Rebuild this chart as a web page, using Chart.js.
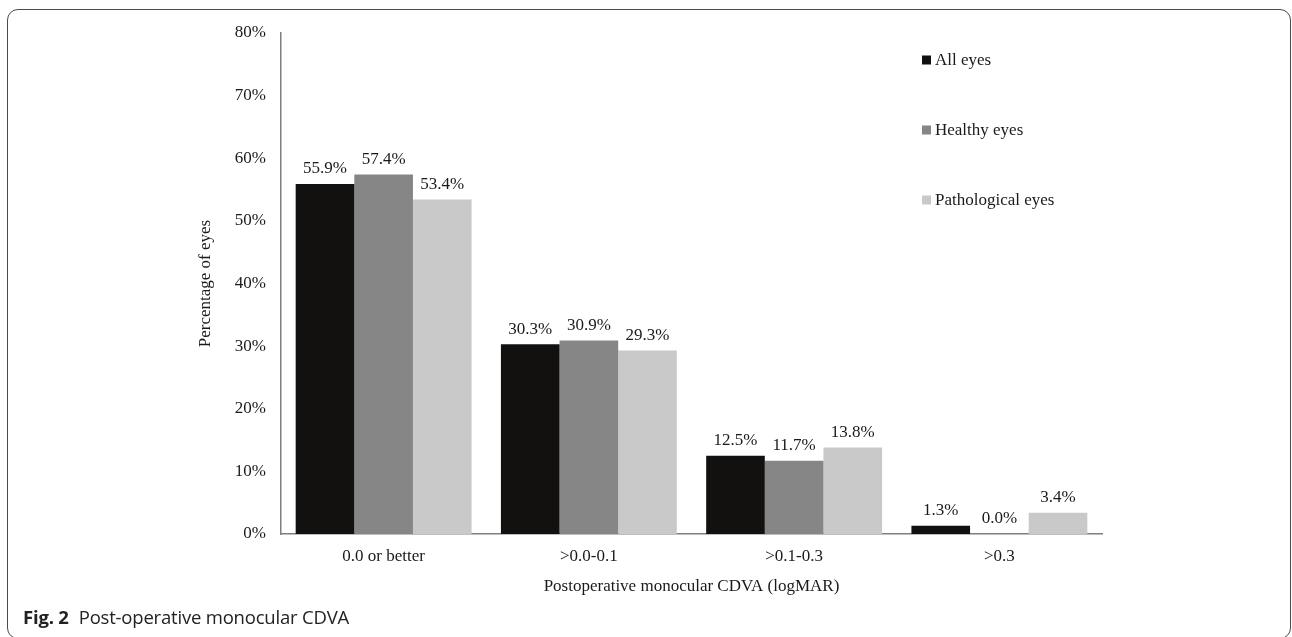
<!DOCTYPE html>
<html>
<head>
<meta charset="utf-8">
<title>Post-operative monocular CDVA</title>
<script src="https://cdn.jsdelivr.net/npm/chart.js@4.4.0/dist/chart.umd.min.js"></script>
<style>
  html, body { margin: 0; padding: 0; background: #fff; }
  #wrap { position: relative; width: 1292px; height: 637px; overflow: hidden; }
  #frame {
    position: absolute; left: 7px; top: 9px; width: 1284px; height: 630px;
    box-sizing: border-box; border: 1.5px solid #4a4a4a; border-radius: 11px;
  }
  #chart { position: absolute; left: 0; top: 0; }
  #caption {
    position: absolute; left: 23px; top: 604px;
    font-family: "Open Sans", sans-serif; font-size: 18.5px; color: #222; line-height: 26px;
    letter-spacing: -0.2px;
  }
  #caption b { font-weight: 700; margin-right: 10px; }
</style>
</head>
<body>
<div id="wrap">
  <div id="frame"></div>
  <canvas id="chart" width="1292" height="637"></canvas>
  <div id="caption"><b>Fig. 2</b>Post-operative monocular CDVA</div>
</div>
<script>
// CDVA categories (logMAR) and the share of eyes in each, per group
const categories = ['0.0 or better', '>0.0-0.1', '>0.1-0.3', '>0.3'];
const allEyes = [55.9, 30.3, 12.5, 1.3];
const healthyEyes = [57.4, 30.9, 11.7, 0.0];
const pathologicalEyes = [53.4, 29.3, 13.8, 3.4];
const seriesNames = ['All eyes', 'Healthy eyes', 'Pathological eyes'];
const yTicks = [0, 10, 20, 30, 40, 50, 60, 70, 80];

const colors = ['#121110', '#868686', '#c9c9c9'];
const serif = '"Liberation Serif", "Times New Roman", serif';
Chart.defaults.font.family = serif;
Chart.defaults.color = '#1a1a1a';

// value labels above each bar
const barValueLabels = {
  id: 'barValueLabels',
  afterDatasetsDraw(chart) {
    const ctx = chart.ctx;
    ctx.save();
    ctx.font = '17px ' + serif;
    ctx.fillStyle = '#1a1a1a';
    ctx.textAlign = 'center';
    ctx.textBaseline = 'middle';
    chart.data.datasets.forEach((ds, i) => {
      chart.getDatasetMeta(i).data.forEach((bar, j) => {
        ctx.fillText(ds.data[j].toFixed(1) + '%', bar.x, bar.y - 15);
      });
    });
    ctx.restore();
  }
};

// vertical legend inside the plot area, top right
const sideLegend = {
  id: 'sideLegend',
  afterDraw(chart, args, opts) {
    const ctx = chart.ctx;
    ctx.save();
    ctx.font = '17px ' + serif;
    ctx.textBaseline = 'middle';
    ctx.textAlign = 'left';
    chart.data.datasets.forEach((ds, i) => {
      const y = opts.y + i * opts.step;
      ctx.fillStyle = ds.backgroundColor;
      ctx.fillRect(opts.x, y - 4.5, 9, 9);
      ctx.fillStyle = '#1a1a1a';
      ctx.fillText(ds.label, opts.x + 13, y + 1);
    });
    ctx.restore();
  }
};

const PAD_LEFT = 195, PAD_RIGHT = 190, PAD_TOP = 33, PAD_BOTTOM = 40;
const PLOT_LEFT = 281, PLOT_BOTTOM = 534;

new Chart(document.getElementById('chart'), {
  type: 'bar',
  data: {
    labels: categories,
    datasets: [allEyes, healthyEyes, pathologicalEyes].map((vals, i) => ({
      label: seriesNames[i],
      data: vals,
      backgroundColor: colors[i],
      borderWidth: 0,
      categoryPercentage: 0.857,
      barPercentage: 1.0
    }))
  },
  options: {
    responsive: false,
    animation: false,
    layout: { padding: { left: PAD_LEFT, right: PAD_RIGHT, top: PAD_TOP, bottom: PAD_BOTTOM } },
    plugins: {
      legend: { display: false },
      tooltip: { enabled: false },
      sideLegend: { x: 922, y: 60, step: 70 }
    },
    scales: {
      x: {
        grid: { display: false, drawTicks: false },
        border: { display: true, color: '#7f7f7f', width: 1.5 },
        ticks: { padding: 12, font: { size: 17 }, color: '#1a1a1a' },
        title: {
          display: true, text: 'Postoperative monocular CDVA (logMAR)',
          font: { size: 17 }, color: '#1a1a1a', padding: { top: 0, bottom: 0 }
        },
        afterFit(scale) { scale.height = 637 - PAD_BOTTOM - PLOT_BOTTOM; }
      },
      y: {
        min: 0, max: 80,
        afterBuildTicks(scale) { scale.ticks = yTicks.map(v => ({ value: v })); },
        grid: { display: false, drawTicks: false },
        border: { display: true, color: '#7f7f7f', width: 1.5 },
        ticks: { padding: 15, font: { size: 17 }, color: '#1a1a1a', callback: v => v + '%' },
        title: {
          display: true, text: 'Percentage of eyes',
          font: { size: 17 }, color: '#1a1a1a', padding: { top: 0, bottom: 0 }
        },
        afterFit(scale) { scale.width = PLOT_LEFT - PAD_LEFT; }
      }
    }
  },
  plugins: [barValueLabels, sideLegend]
});
</script>
</body>
</html>
